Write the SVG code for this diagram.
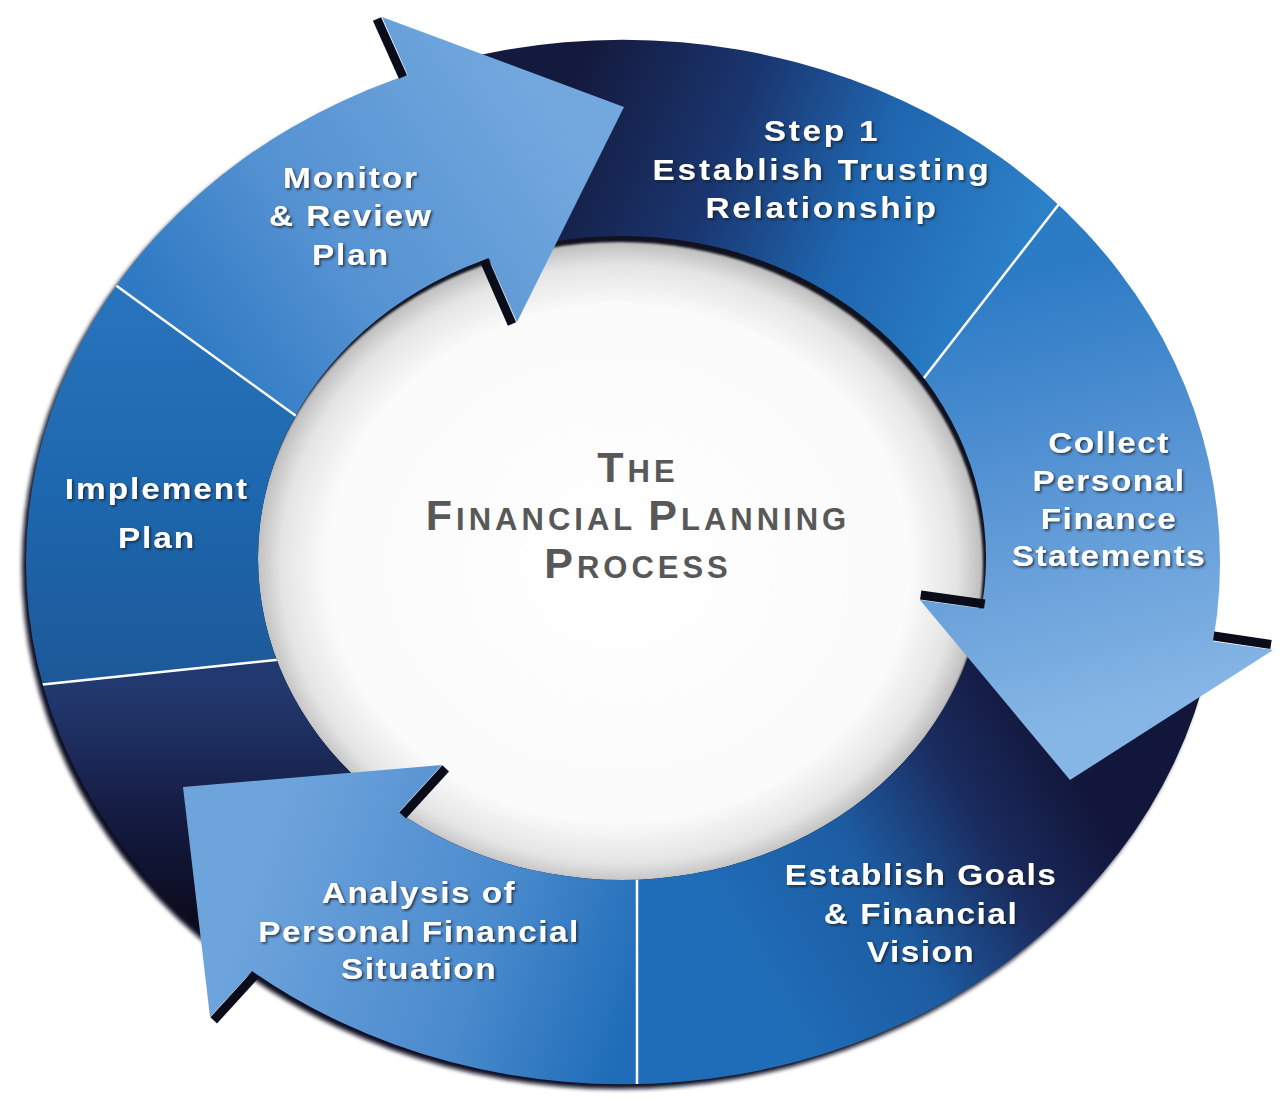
<svg xmlns="http://www.w3.org/2000/svg" width="1280" height="1120" viewBox="0 0 1280 1120">
<style>
 .lbl{font-family:"Liberation Sans",Arial,sans-serif;font-weight:bold;font-size:29px;fill:#ffffff;text-anchor:middle;letter-spacing:1.3px;filter:url(#ts)}
 .wide{letter-spacing:1.7px}
 .wider{letter-spacing:2.4px}
 .title{font-family:"Liberation Sans",Arial,sans-serif;font-weight:bold;fill:#585858;text-anchor:middle;letter-spacing:4px}
 .div{stroke:#ffffff;stroke-width:2.5;fill:none}
 .barb{stroke:#0a0c1a;stroke-width:9;fill:none}
</style>
<defs>
 <filter id="ts" x="-10%" y="-30%" width="120%" height="160%"><feDropShadow dx="1.4" dy="1.6" stdDeviation="0.9" flood-color="#1a1a1a" flood-opacity="0.75"/></filter>
 <filter id="blur2" x="-5%" y="-5%" width="110%" height="110%"><feGaussianBlur stdDeviation="2"/></filter>
 <filter id="blur1" x="-5%" y="-5%" width="110%" height="110%"><feGaussianBlur stdDeviation="1.2"/></filter>
 <clipPath id="ring"><path clip-rule="evenodd" d="M26,562 a597,522 0 1,0 1194,0 a597,522 0 1,0 -1194,0 Z M258,558 a364,322 0 1,0 728,0 a364,322 0 1,0 -728,0 Z"/></clipPath>
 <clipPath id="hole"><ellipse cx="622" cy="558" rx="364" ry="322"/></clipPath>
 <radialGradient id="gHole" cx="0.5" cy="0.5" r="0.5">
  <stop offset="0" stop-color="#ffffff"/><stop offset="0.8" stop-color="#fbfbfb"/><stop offset="0.93" stop-color="#e4e4e4"/><stop offset="1" stop-color="#bdbdbd"/>
 </radialGradient>
 <linearGradient id="gStep1" gradientUnits="userSpaceOnUse" x1="560" y1="120" x2="1000" y2="300">
  <stop offset="0" stop-color="#141a3e"/><stop offset="0.35" stop-color="#1a3670"/><stop offset="0.65" stop-color="#1f66af"/><stop offset="1" stop-color="#2b80c8"/>
 </linearGradient>
 <linearGradient id="gMonitor" gradientUnits="userSpaceOnUse" x1="200" y1="370" x2="560" y2="120">
  <stop offset="0" stop-color="#2f7ac3"/><stop offset="0.4" stop-color="#5592d2"/><stop offset="1" stop-color="#72a8de"/>
 </linearGradient>
 <linearGradient id="gCollect" gradientUnits="userSpaceOnUse" x1="1000" y1="280" x2="1110" y2="720">
  <stop offset="0" stop-color="#2c7bc5"/><stop offset="0.45" stop-color="#5794d4"/><stop offset="1" stop-color="#86b6e5"/>
 </linearGradient>
 <linearGradient id="gGoals" gradientUnits="userSpaceOnUse" x1="760" y1="990" x2="1090" y2="800">
  <stop offset="0" stop-color="#1f6db8"/><stop offset="0.4" stop-color="#1d5ca2"/><stop offset="0.72" stop-color="#1a2b5e"/><stop offset="1" stop-color="#12163a"/>
 </linearGradient>
 <linearGradient id="gAnalysis" gradientUnits="userSpaceOnUse" x1="640" y1="990" x2="260" y2="860">
  <stop offset="0" stop-color="#1f6db8"/><stop offset="0.4" stop-color="#4a8acd"/><stop offset="1" stop-color="#6ea4dc"/>
 </linearGradient>
 <linearGradient id="gDark" gradientUnits="userSpaceOnUse" x1="0" y1="690" x2="0" y2="930">
  <stop offset="0" stop-color="#22396f"/><stop offset="0.5" stop-color="#151c44"/><stop offset="1" stop-color="#0a0a1a"/>
 </linearGradient>
 <linearGradient id="gImpl" gradientUnits="userSpaceOnUse" x1="0" y1="300" x2="0" y2="690">
  <stop offset="0" stop-color="#2873bb"/><stop offset="0.5" stop-color="#1d67ae"/><stop offset="1" stop-color="#1d5897"/>
 </linearGradient>
</defs>

<rect width="1280" height="1120" fill="#ffffff"/>

<g id="backdrop">
 <ellipse cx="619" cy="567" rx="597" ry="522" fill="#0c0f24" filter="url(#blur2)"/>
 <g clip-path="url(#hole)">
  <ellipse cx="622" cy="558" rx="364" ry="322" fill="#10121e"/>
  <ellipse cx="619" cy="564" rx="364" ry="322" fill="url(#gHole)" filter="url(#blur1)"/>
 </g>
</g>

<g id="step1">
 <polygon clip-path="url(#ring)" points="623,560 286,-200 1314,-125 783,560" fill="url(#gStep1)"/>
 <text class="lbl wider" transform="translate(822 141) scale(1.15 1)">Step 1</text>
 <text class="lbl wider" transform="translate(822 180) scale(1.15 1)">Establish Trusting</text>
 <text class="lbl wider" transform="translate(822 218) scale(1.15 1)">Relationship</text>
</g>

<g id="goals">
 <polygon clip-path="url(#ring)" points="623,558 1400,668 1400,1200 637,1200 637,560" fill="url(#gGoals)"/>
 <text class="lbl" transform="translate(921 885) scale(1.15 1)">Establish Goals</text>
 <text class="lbl" transform="translate(921 924) scale(1.15 1)">&amp; Financial</text>
 <text class="lbl" transform="translate(921 962) scale(1.15 1)">Vision</text>
</g>

<g id="dark-segment">
 <polygon clip-path="url(#ring)" points="631,560 24,1219 -200,1219 -200,710 400,647" fill="url(#gDark)"/>
</g>

<g id="implement">
 <polygon clip-path="url(#ring)" points="400,647 -200,710 -200,57 400,491" fill="url(#gImpl)"/>
 <text class="lbl wide" transform="translate(157 499) scale(1.15 1)">Implement</text>
 <text class="lbl wide" transform="translate(157 548) scale(1.15 1)">Plan</text>
</g>

<g id="monitor">
 <polygon clip-path="url(#ring)" points="400,491 -200,57 -200,-200 287.8,-200.8 624.8,559.2" fill="url(#gMonitor)"/>
 <line class="barb" x1="377" y1="19" x2="403" y2="77"/>
 <line class="barb" x1="484" y1="260" x2="512" y2="324"/>
 <polygon points="382,17 624,107 517,322" fill="url(#gMonitor)"/>
 <text class="lbl wide" transform="translate(351 188) scale(1.15 1)">Monitor</text>
 <text class="lbl wide" transform="translate(351 226) scale(1.15 1)">&amp; Review</text>
 <text class="lbl wide" transform="translate(351 265) scale(1.15 1)">Plan</text>
</g>

<g id="collect">
 <polygon clip-path="url(#ring)" points="783,560 1314,-125 1400,-125 1399.7,670 622.7,560" fill="url(#gCollect)"/>
 <line class="barb" x1="920.7" y1="595" x2="984.7" y2="604"/>
 <line class="barb" x1="1213.7" y1="636" x2="1271" y2="644.5"/>
 <polygon points="920,600 1070,780 1273,650" fill="url(#gCollect)"/>
 <text class="lbl" transform="translate(1109 453) scale(1.15 1)">Collect</text>
 <text class="lbl" transform="translate(1109 491) scale(1.15 1)">Personal</text>
 <text class="lbl" transform="translate(1109 529) scale(1.15 1)">Finance</text>
 <text class="lbl" transform="translate(1109 566) scale(1.15 1)">Statements</text>
</g>

<g id="analysis">
 <polygon clip-path="url(#ring)" points="637,560 637,1200 22.5,1217.6 629.5,558.6" fill="url(#gAnalysis)"/>
 <line class="barb" x1="445.7" y1="768.4" x2="402.7" y2="815.4"/>
 <line class="barb" x1="255.7" y1="974.4" x2="213.7" y2="1020.4"/>
 <polygon points="442,765 183,787 210,1017" fill="url(#gAnalysis)"/>
 <text class="lbl" transform="translate(419 903) scale(1.15 1)">Analysis of</text>
 <text class="lbl" transform="translate(419 942) scale(1.15 1)">Personal Financial</text>
 <text class="lbl" transform="translate(419 979) scale(1.15 1)">Situation</text>
</g>

<g id="connectors" clip-path="url(#ring)">
 <line class="div" x1="1066" y1="195" x2="920" y2="383"/>
 <line class="div" x1="114" y1="284" x2="303" y2="421"/>
 <line class="div" x1="38" y1="685" x2="285" y2="659"/>
 <line class="div" x1="637" y1="870" x2="637" y2="1090"/>
</g>

<g id="title">
 <text class="title" x="638" y="482"><tspan font-size="43">T</tspan><tspan font-size="31">HE</tspan></text>
 <text class="title" x="638" y="530"><tspan font-size="43">F</tspan><tspan font-size="31">INANCIAL </tspan><tspan font-size="43">P</tspan><tspan font-size="31">LANNING</tspan></text>
 <text class="title" x="638" y="578"><tspan font-size="43">P</tspan><tspan font-size="31">ROCESS</tspan></text>
</g>
</svg>
